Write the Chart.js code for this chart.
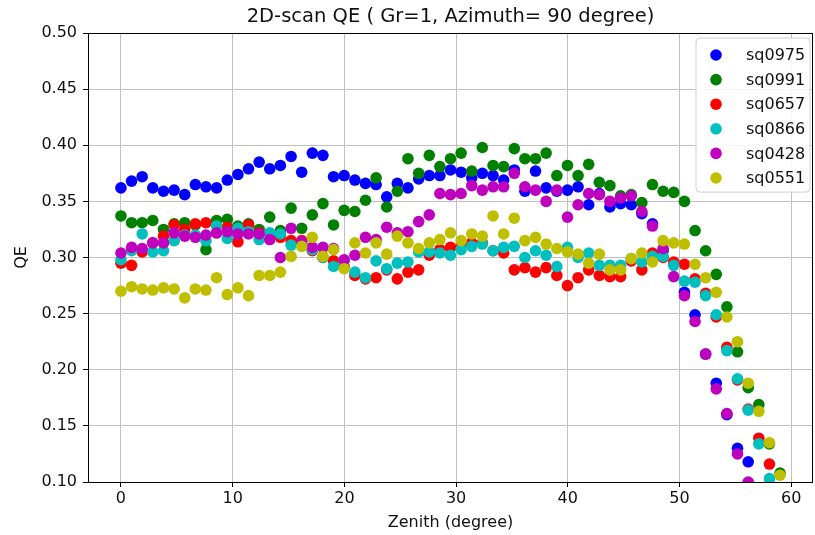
<!DOCTYPE html>
<html>
<head>
<meta charset="utf-8">
<title>2D-scan QE</title>
<script src="https://cdn.jsdelivr.net/npm/chart.js@4.4.1/dist/chart.umd.min.js"></script>
<style>
    html, body { margin: 0; padding: 0; background: #ffffff; }
    #wrap { width: 815px; height: 535px; }
</style>
</head>
<body>
<div id="wrap"><canvas id="chartQE" width="815" height="535"></canvas></div>
<script>
/* ============================================
   2D-scan QE vs zenith angle (Gr=1, Azimuth=90)
   ============================================ */

// Zenith angles of the scan (degree)
const zenith = [
    0.00, 0.95, 1.90, 2.85, 3.81, 4.76, 5.71, 6.66, 7.61, 8.56,
    9.52, 10.47, 11.42, 12.37, 13.32, 14.27, 15.23, 16.18, 17.13, 18.08,
    19.03, 19.98, 20.94, 21.89, 22.84, 23.79, 24.74, 25.69, 26.65, 27.60,
    28.55, 29.50, 30.45, 31.40, 32.35, 33.31, 34.26, 35.21, 36.16, 37.11,
    38.06, 39.02, 39.97, 40.92, 41.87, 42.82, 43.77, 44.73, 45.68, 46.63,
    47.58, 48.53, 49.48, 50.44, 51.39, 52.34, 53.29, 54.24, 55.19, 56.15,
    57.10, 58.05, 59.00
];

// QE per sample (points below 0.10 fall off the axis and are not listed)
const sq0975 = [
    0.362, 0.368, 0.372, 0.362, 0.359, 0.360, 0.356, 0.365, 0.363, 0.362,
    0.369, 0.374, 0.379, 0.385, 0.379, 0.382, 0.390, 0.376, 0.393, 0.391,
    0.372, 0.373, 0.369, 0.366, 0.365, 0.354, 0.366, 0.362, 0.370, 0.373,
    0.373, 0.378, 0.376, 0.371, 0.375, 0.373, 0.369, 0.378, 0.359, 0.377,
    0.362, 0.359, 0.360, 0.363, 0.347, 0.357, 0.345, 0.348, 0.347, 0.339,
    0.330, 0.306, 0.295, 0.269, 0.249, 0.214, 0.188, 0.160, 0.130, 0.118
];
const sq0991 = [
    0.337, 0.331, 0.331, 0.333, 0.325, 0.330, 0.331, 0.329, 0.307, 0.333,
    0.334, 0.328, 0.330, 0.325, 0.336, 0.324, 0.344, 0.326, 0.338, 0.348,
    0.329, 0.342, 0.341, 0.351, 0.371, 0.345, 0.359, 0.388, 0.375, 0.391,
    0.381, 0.388, 0.393, 0.377, 0.398, 0.382, 0.381, 0.397, 0.388, 0.388,
    0.393, 0.373, 0.382, 0.373, 0.383, 0.367, 0.364, 0.355, 0.356, 0.349,
    0.365, 0.359, 0.358, 0.350, 0.324, 0.306, 0.285, 0.256, 0.216, 0.184,
    0.169, 0.134, 0.108
];
const sq0657 = [
    0.295, 0.293, 0.305, 0.313, 0.319, 0.329, 0.325, 0.330, 0.331, 0.322,
    0.327, 0.314, 0.329, 0.322, 0.321, 0.318, 0.315, 0.315, 0.306, 0.300,
    0.297, 0.292, 0.284, 0.281, 0.282, 0.289, 0.281, 0.287, 0.289, 0.302,
    0.307, 0.309, 0.311, 0.313, 0.313, 0.306, 0.304, 0.289, 0.291, 0.287,
    0.291, 0.284, 0.275, 0.282, 0.289, 0.284, 0.283, 0.283, 0.297, 0.289,
    0.304, 0.300, 0.296, 0.294, 0.281, 0.268, 0.247, 0.220, 0.191, 0.165,
    0.139, 0.116
];
const sq0866 = [
    0.298, 0.306, 0.321, 0.305, 0.306, 0.315, 0.320, 0.320, 0.315, 0.328,
    0.317, 0.326, 0.323, 0.316, 0.322, 0.321, 0.311, 0.312, 0.307, 0.300,
    0.292, 0.297, 0.287, 0.282, 0.297, 0.290, 0.295, 0.296, 0.305, 0.305,
    0.304, 0.302, 0.307, 0.310, 0.312, 0.306, 0.309, 0.310, 0.300, 0.306,
    0.302, 0.292, 0.309, 0.300, 0.304, 0.293, 0.293, 0.293, 0.299, 0.296,
    0.301, 0.301, 0.293, 0.279, 0.278, 0.266, 0.249, 0.217, 0.192, 0.164,
    0.134, 0.103
];
const sq0428 = [
    0.304, 0.309, 0.308, 0.313, 0.313, 0.322, 0.319, 0.318, 0.320, 0.322,
    0.323, 0.321, 0.321, 0.321, 0.316, 0.300, 0.326, 0.314, 0.309, 0.309,
    0.308, 0.298, 0.302, 0.318, 0.316, 0.327, 0.322, 0.323, 0.332, 0.338,
    0.357, 0.356, 0.357, 0.364, 0.360, 0.363, 0.363, 0.375, 0.363, 0.360,
    0.350, 0.360, 0.336, 0.347, 0.357, 0.356, 0.350, 0.353, 0.355, 0.341,
    0.328, 0.308, 0.283, 0.266, 0.243, 0.214, 0.183, 0.161, 0.125, 0.100
];
const sq0551 = [
    0.270, 0.274, 0.272, 0.271, 0.273, 0.272, 0.264, 0.272, 0.271, 0.282,
    0.267, 0.273, 0.266, 0.284, 0.284, 0.287, 0.301, 0.310, 0.318, 0.301,
    0.307, 0.290, 0.313, 0.304, 0.313, 0.303, 0.319, 0.313, 0.308, 0.313,
    0.316, 0.322, 0.315, 0.321, 0.319, 0.337, 0.321, 0.335, 0.315, 0.318,
    0.312, 0.308, 0.305, 0.303, 0.295, 0.303, 0.289, 0.289, 0.299, 0.304,
    0.296, 0.315, 0.313, 0.312, 0.294, 0.282, 0.269, 0.247, 0.225, 0.188,
    0.163, 0.135, 0.106
];

const sampleNames = ['sq0975', 'sq0991', 'sq0657', 'sq0866', 'sq0428', 'sq0551'];
const sampleValues = [sq0975, sq0991, sq0657, sq0866, sq0428, sq0551];
const sampleColors = ['#0000ff', '#008000', '#ff0000', '#00bfbf', '#bf00bf', '#bfbf00'];

const xTicks = [0, 10, 20, 30, 40, 50, 60];
const yTicks = [0.10, 0.15, 0.20, 0.25, 0.30, 0.35, 0.40, 0.45, 0.50];

const titleText = '2D-scan QE ( Gr=1, Azimuth= 90 degree)';
const FONT = "'DejaVu Sans', sans-serif";
const TEXT = '#111111';

/**
 * Title centred over the plot area, box frame and legend drawn inside it
 */
const framePlugin = {
    id: 'frameAndLegend',
    afterDatasetsDraw(chart) {
        const { ctx, chartArea: a } = chart;
        ctx.save();

        // axes frame
        ctx.strokeStyle = '#000';
        ctx.lineWidth = 1;
        ctx.strokeRect(Math.round(a.left) + 0.5, Math.round(a.top) + 0.5,
            Math.round(a.right - a.left) - 1, Math.round(a.bottom - a.top));

        // title
        ctx.fillStyle = TEXT;
        ctx.font = '19.5px ' + FONT;
        ctx.textAlign = 'center';
        ctx.textBaseline = 'middle';
        ctx.fillText(titleText, (a.left + a.right) / 2, 17);

        // legend box (upper right)
        const sets = chart.data.datasets;
        const rowH = 24.6;
        const w = 114;
        const h = sets.length * rowH + 6.5;
        const x = a.right - w - 3;
        const y = a.top + 5;
        const r = 4;
        ctx.beginPath();
        ctx.moveTo(x + r, y);
        ctx.lineTo(x + w - r, y);
        ctx.arcTo(x + w, y, x + w, y + r, r);
        ctx.lineTo(x + w, y + h - r);
        ctx.arcTo(x + w, y + h, x + w - r, y + h, r);
        ctx.lineTo(x + r, y + h);
        ctx.arcTo(x, y + h, x, y + h - r, r);
        ctx.lineTo(x, y + r);
        ctx.arcTo(x, y, x + r, y, r);
        ctx.closePath();
        ctx.fillStyle = 'rgba(255,255,255,0.85)';
        ctx.fill();
        ctx.strokeStyle = '#d0d0d0';
        ctx.stroke();

        ctx.font = '16px ' + FONT;
        ctx.textAlign = 'left';
        sets.forEach((ds, i) => {
            const cy = y + 17 + i * rowH;
            ctx.beginPath();
            ctx.arc(x + 20, cy, 5.8, 0, Math.PI * 2);
            ctx.fillStyle = ds.backgroundColor;
            ctx.fill();
            ctx.fillStyle = TEXT;
            ctx.fillText(ds.label, x + 50, cy + 1);
        });
        ctx.restore();
    }
};

function initChart() {
    const datasets = sampleNames.map((name, k) => ({
        label: name,
        data: sampleValues[k].map((v, i) => ({ x: zenith[i], y: v })),
        backgroundColor: sampleColors[k],
        borderColor: sampleColors[k],
        borderWidth: 0,
        pointRadius: 5.8,
        pointHoverRadius: 5.8,
        clip: 0,
        order: sampleNames.length - k   // later samples on top
    }));

    new Chart(document.getElementById('chartQE'), {
        type: 'scatter',
        data: { datasets },
        options: {
            responsive: false,
            devicePixelRatio: 1,
            animation: false,
            layout: {
                autoPadding: false,
                padding: { top: 33, right: 2, left: 0, bottom: 0 }
            },
            plugins: {
                legend: { display: false },
                tooltip: { enabled: false },
                title: { display: false }
            },
            scales: {
                x: {
                    type: 'linear',
                    min: -2.95,
                    max: 61.95,
                    afterBuildTicks: (axis) => { axis.ticks = xTicks.map(v => ({ value: v })); },
                    afterFit: (axis) => {
                        axis.height = 53;
                        axis.paddingLeft = 0;
                        axis.paddingRight = 0;
                    },
                    border: { display: false },
                    grid: { color: '#c0c0c0', lineWidth: 1, tickColor: '#000', tickLength: 5, tickWidth: 1 },
                    ticks: { color: TEXT, font: { family: FONT, size: 16 }, padding: 2, maxRotation: 0 },
                    title: {
                        display: true,
                        text: 'Zenith (degree)',
                        color: TEXT,
                        font: { family: FONT, size: 16 },
                        padding: { top: 0, bottom: 3 }
                    }
                },
                y: {
                    type: 'linear',
                    min: 0.10,
                    max: 0.50,
                    afterBuildTicks: (axis) => { axis.ticks = yTicks.map(v => ({ value: v })); },
                    afterFit: (axis) => {
                        axis.width = 88;
                        axis.paddingTop = 0;
                        axis.paddingBottom = 0;
                    },
                    border: { display: false },
                    grid: { color: '#c0c0c0', lineWidth: 1, tickColor: '#000', tickLength: 5, tickWidth: 1 },
                    ticks: {
                        color: TEXT,
                        font: { family: FONT, size: 16 },
                        padding: 6,
                        callback: (v) => Number(v).toFixed(2)
                    },
                    title: {
                        display: true,
                        text: 'QE',
                        color: TEXT,
                        font: { family: FONT, size: 16 },
                        padding: { top: 12, bottom: 0 }
                    }
                }
            }
        },
        plugins: [framePlugin]
    });
}

initChart();
</script>
</body>
</html>
